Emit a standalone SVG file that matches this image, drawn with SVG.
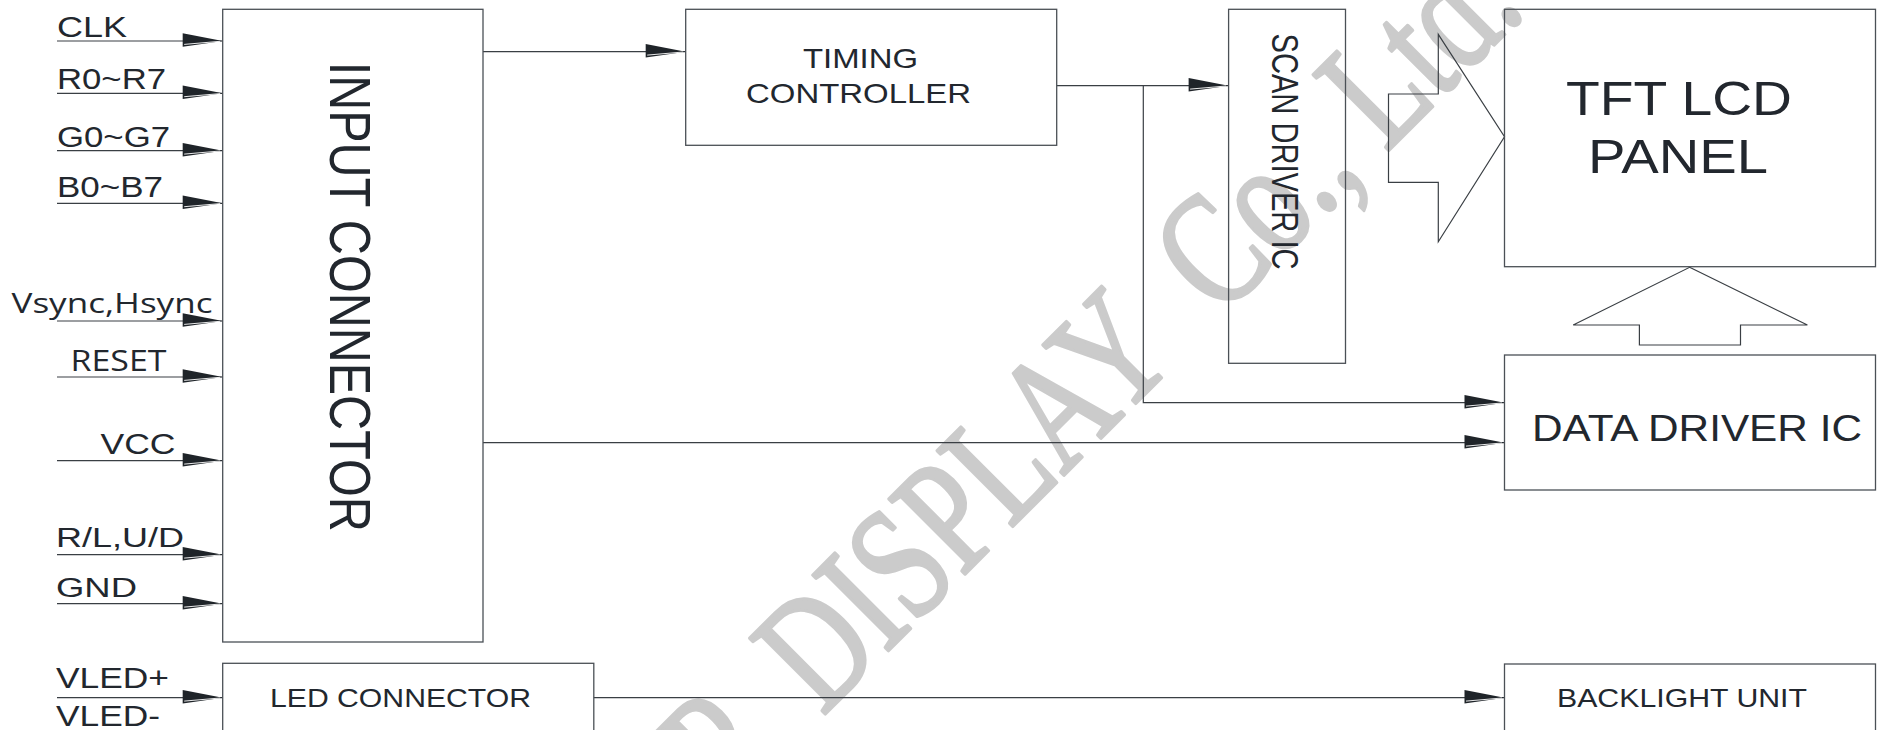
<svg xmlns="http://www.w3.org/2000/svg" width="1883" height="730" viewBox="0 0 1883 730">
<style>
.box{fill:none;stroke:#4b5056;stroke-width:1.3}
.ln{fill:none;stroke:#3a3f44;stroke-width:1.2}
.t{font-family:"Liberation Sans",Arial,sans-serif;fill:#22272e}
.o{font-family:"Open Sans","Liberation Sans",sans-serif;fill:#22272e}
.wm{font-family:"Liberation Serif","Times New Roman",serif;fill:#cbcbcb;stroke:#cbcbcb;stroke-width:3.5;stroke-linejoin:round;font-size:163px}
</style>
<defs>
<marker id="arr" markerUnits="userSpaceOnUse" markerWidth="44" markerHeight="18" refX="41" refY="9" orient="auto" viewBox="0 0 44 18">
<path d="M1,1.3 L41,9 L1,14.7 Z" fill="#1f2429"/>
<path d="M2.5,12.4 L38.5,9.3" stroke="#ffffff" stroke-width="0.9" fill="none"/>
</marker>
</defs>
<rect width="1883" height="730" fill="#ffffff"/>
<g id="watermark">
<text class="wm" transform="translate(769.5,769.5) rotate(-45) scale(0.75,1)"><tspan x="-75">P</tspan><tspan x="100">DISPLAY</tspan><tspan x="850">Co., Ltd.</tspan></text>
</g>
<g id="connectors">
<line class="ln" x1="57" y1="41" x2="222.7" y2="41" marker-end="url(#arr)"/>
<line class="ln" x1="57" y1="93.3" x2="222.7" y2="93.3" marker-end="url(#arr)"/>
<line class="ln" x1="57" y1="150.7" x2="222.7" y2="150.7" marker-end="url(#arr)"/>
<line class="ln" x1="57" y1="203.3" x2="222.7" y2="203.3" marker-end="url(#arr)"/>
<line class="ln" x1="57" y1="321" x2="222.7" y2="321" marker-end="url(#arr)"/>
<line class="ln" x1="57" y1="377" x2="222.7" y2="377" marker-end="url(#arr)"/>
<line class="ln" x1="57" y1="460.7" x2="222.7" y2="460.7" marker-end="url(#arr)"/>
<line class="ln" x1="57" y1="554.7" x2="222.7" y2="554.7" marker-end="url(#arr)"/>
<line class="ln" x1="57" y1="603.7" x2="222.7" y2="603.7" marker-end="url(#arr)"/>
<line class="ln" x1="57" y1="697.7" x2="222.7" y2="697.7" marker-end="url(#arr)"/>
<line class="ln" x1="483" y1="51.7" x2="685.7" y2="51.7" marker-end="url(#arr)"/>
<line class="ln" x1="1056.7" y1="85.7" x2="1228.6" y2="85.7" marker-end="url(#arr)"/>
<polyline class="ln" points="1143.3,85.7 1143.3,402.7 1504.5,402.7" marker-end="url(#arr)"/>
<line class="ln" x1="483" y1="442.7" x2="1504.5" y2="442.7" marker-end="url(#arr)"/>
<line class="ln" x1="593.8" y1="697.7" x2="1504.5" y2="697.7" marker-end="url(#arr)"/>
<polygon class="ln" points="1438.3,34.3 1504.5,136.7 1438.3,241.7 1438.3,182.3 1388.5,182.3 1388.5,94 1438.3,94"/>
<polygon class="ln" points="1689.6,267.3 1807.4,325 1740.5,325 1740.5,345 1639.4,345 1639.4,325 1573.2,325"/>
</g>
<g id="signals">
<text class="t" x="57" y="36.7" font-size="30" textLength="70" lengthAdjust="spacingAndGlyphs">CLK</text>
<text class="t" x="57" y="89.3" font-size="29.5" textLength="109" lengthAdjust="spacingAndGlyphs">R0~R7</text>
<text class="t" x="57" y="146.7" font-size="30" textLength="113" lengthAdjust="spacingAndGlyphs">G0~G7</text>
<text class="t" x="57" y="197.3" font-size="29" textLength="106" lengthAdjust="spacingAndGlyphs">B0~B7</text>
<text class="o" x="11.5" y="312.7" font-size="28" textLength="201" lengthAdjust="spacingAndGlyphs">Vsync,Hsync</text>
<text class="o" x="70.5" y="370.7" font-size="29" textLength="96" lengthAdjust="spacingAndGlyphs">RESET</text>
<text class="t" x="100.5" y="454.3" font-size="29.5" textLength="75" lengthAdjust="spacingAndGlyphs">VCC</text>
<text class="t" x="56" y="546.7" font-size="28" textLength="128" lengthAdjust="spacingAndGlyphs">R/L,U/D</text>
<text class="t" x="56" y="597.3" font-size="27" textLength="81" lengthAdjust="spacingAndGlyphs">GND</text>
<text class="t" x="56" y="688.3" font-size="30" textLength="113" lengthAdjust="spacingAndGlyphs">VLED+</text>
<text class="t" x="56" y="725.7" font-size="30" textLength="104" lengthAdjust="spacingAndGlyphs">VLED-</text>
</g>
<g id="input-connector">
<rect class="box" x="222.7" y="9.3" width="260.3" height="632.7"/>
<text class="t" transform="translate(330,61.7) rotate(90)" font-size="57" textLength="470" lengthAdjust="spacingAndGlyphs">INPUT CONNECTOR</text>
</g>
<g id="timing-controller">
<rect class="box" x="685.7" y="9.3" width="371" height="136"/>
<text class="t" x="803" y="68.3" font-size="28" textLength="115" lengthAdjust="spacingAndGlyphs">TIMING</text>
<text class="t" x="746" y="103.3" font-size="28" textLength="225" lengthAdjust="spacingAndGlyphs">CONTROLLER</text>
</g>
<g id="scan-driver">
<rect class="box" x="1228.6" y="9.3" width="116.9" height="354"/>
<text class="t" transform="translate(1272,33.5) rotate(90)" font-size="36" textLength="236" lengthAdjust="spacingAndGlyphs">SCAN DRIVER IC</text>
</g>
<g id="tft-panel">
<rect class="box" x="1504.5" y="9.3" width="371" height="257.4"/>
<text class="t" x="1566" y="115" font-size="49" textLength="226" lengthAdjust="spacingAndGlyphs">TFT LCD</text>
<text class="t" x="1588" y="172.7" font-size="49" textLength="180" lengthAdjust="spacingAndGlyphs">PANEL</text>
</g>
<g id="data-driver">
<rect class="box" x="1504.5" y="355" width="371" height="135"/>
<text class="t" x="1532" y="441" font-size="36.5" textLength="330" lengthAdjust="spacingAndGlyphs">DATA DRIVER IC</text>
</g>
<g id="led-connector">
<rect class="box" x="222.7" y="663.3" width="371.1" height="80"/>
<text class="t" x="270" y="707" font-size="26.5" textLength="261" lengthAdjust="spacingAndGlyphs">LED CONNECTOR</text>
</g>
<g id="backlight-unit">
<rect class="box" x="1504.5" y="664" width="371" height="80"/>
<text class="t" x="1557" y="706.7" font-size="26.5" textLength="250" lengthAdjust="spacingAndGlyphs">BACKLIGHT UNIT</text>
</g>
</svg>
